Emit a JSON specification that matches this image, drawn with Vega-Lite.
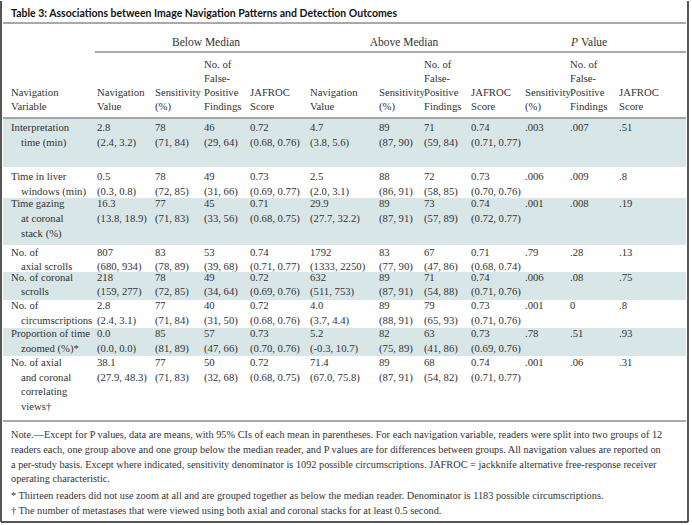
{
  "$schema": "https://vega.github.io/schema/vega-lite/v6.json",
  "width": 692,
  "height": 525,
  "autosize": {"type": "fit", "contains": "padding"},
  "padding": 0,
  "background": "white",
  "config": {"view": {"stroke": null}},
  "datasets": {
    "bands": [
      {"col": 0, "col2": 18, "line": 8, "line2": 11},
      {"col": 0, "col2": 18, "line": 14, "line2": 18},
      {"col": 0, "col2": 18, "line": 21, "line2": 24},
      {"col": 0, "col2": 18, "line": 27, "line2": 30}
    ],
    "rules": [
      {"col": 0, "col2": 18, "line": 1, "line2": 1},
      {"col": 3, "col2": 18, "line": 3, "line2": 3},
      {"col": 0, "col2": 18, "line": 8, "line2": 8},
      {"col": 0, "col2": 18, "line": 35, "line2": 35}
    ],
    "border": [
      {"col": -1, "col2": -1, "line": -1, "line2": 42},
      {"col": 19, "col2": 19, "line": -1, "line2": 42},
      {"col": -1, "col2": 19, "line": 42, "line2": 42}
    ],
    "title": [
      {"col": 1, "line": 0, "text": "Table 3: Associations between Image Navigation Patterns and Detection Outcomes"}
    ],
    "groups": [
      {"col": 7, "line": 2, "text": "Below Median"},
      {"col": 11, "line": 2, "text": "Above Median"}
    ],
    "pital": [{"col": 16, "line": 2, "text": "P"}],
    "pval": [{"col": 16, "line": 2, "text": "Value"}],
    "notes": [
      {"col": 1, "line": 36, "text": "Note.—Except for P values, data are means, with 95% CIs of each mean in parentheses. For each navigation variable, readers were split into two groups of 12"},
      {"col": 1, "line": 37, "text": "readers each, one group above and one group below the median reader, and P values are for differences between groups. All navigation values are reported on"},
      {"col": 1, "line": 38, "text": "a per-study basis. Except where indicated, sensitivity denominator is 1092 possible circumscriptions. JAFROC = jackknife alternative free-response receiver"},
      {"col": 1, "line": 39, "text": "operating characteristic."},
      {"col": 1, "line": 40, "text": "* Thirteen readers did not use zoom at all and are grouped together as below the median reader. Denominator is 1183 possible circumscriptions."},
      {"col": 1, "line": 41, "text": "† The number of metastases that were viewed using both axial and coronal stacks for at least 0.5 second."}
    ],
    "cells": [
      {"col": 1, "line": 6, "text": "Navigation"}, {"col": 1, "line": 7, "text": "Variable"},
      {"col": 4, "line": 6, "text": "Navigation"}, {"col": 4, "line": 7, "text": "Value"},
      {"col": 5, "line": 6, "text": "Sensitivity"}, {"col": 5, "line": 7, "text": "(%)"},
      {"col": 6, "line": 4, "text": "No. of"}, {"col": 6, "line": 5, "text": "False-"}, {"col": 6, "line": 6, "text": "Positive"}, {"col": 6, "line": 7, "text": "Findings"},
      {"col": 8, "line": 6, "text": "JAFROC"}, {"col": 8, "line": 7, "text": "Score"},
      {"col": 9, "line": 6, "text": "Navigation"}, {"col": 9, "line": 7, "text": "Value"},
      {"col": 10, "line": 6, "text": "Sensitivity"}, {"col": 10, "line": 7, "text": "(%)"},
      {"col": 12, "line": 4, "text": "No. of"}, {"col": 12, "line": 5, "text": "False-"}, {"col": 12, "line": 6, "text": "Positive"}, {"col": 12, "line": 7, "text": "Findings"},
      {"col": 13, "line": 6, "text": "JAFROC"}, {"col": 13, "line": 7, "text": "Score"},
      {"col": 14, "line": 6, "text": "Sensitivity"}, {"col": 14, "line": 7, "text": "(%)"},
      {"col": 15, "line": 4, "text": "No. of"}, {"col": 15, "line": 5, "text": "False-"}, {"col": 15, "line": 6, "text": "Positive"}, {"col": 15, "line": 7, "text": "Findings"},
      {"col": 17, "line": 6, "text": "JAFROC"}, {"col": 17, "line": 7, "text": "Score"},

      {"col": 1, "line": 9, "text": "Interpretation"}, {"col": 2, "line": 10, "text": "time (min)"},
      {"col": 4, "line": 9, "text": "2.8"}, {"col": 4, "line": 10, "text": "(2.4, 3.2)"},
      {"col": 5, "line": 9, "text": "78"}, {"col": 5, "line": 10, "text": "(71, 84)"},
      {"col": 6, "line": 9, "text": "46"}, {"col": 6, "line": 10, "text": "(29, 64)"},
      {"col": 8, "line": 9, "text": "0.72"}, {"col": 8, "line": 10, "text": "(0.68, 0.76)"},
      {"col": 9, "line": 9, "text": "4.7"}, {"col": 9, "line": 10, "text": "(3.8, 5.6)"},
      {"col": 10, "line": 9, "text": "89"}, {"col": 10, "line": 10, "text": "(87, 90)"},
      {"col": 12, "line": 9, "text": "71"}, {"col": 12, "line": 10, "text": "(59, 84)"},
      {"col": 13, "line": 9, "text": "0.74"}, {"col": 13, "line": 10, "text": "(0.71, 0.77)"},
      {"col": 14, "line": 9, "text": ".003"}, {"col": 15, "line": 9, "text": ".007"}, {"col": 17, "line": 9, "text": ".51"},

      {"col": 1, "line": 12, "text": "Time in liver"}, {"col": 2, "line": 13, "text": "windows (min)"},
      {"col": 4, "line": 12, "text": "0.5"}, {"col": 4, "line": 13, "text": "(0.3, 0.8)"},
      {"col": 5, "line": 12, "text": "78"}, {"col": 5, "line": 13, "text": "(72, 85)"},
      {"col": 6, "line": 12, "text": "49"}, {"col": 6, "line": 13, "text": "(31, 66)"},
      {"col": 8, "line": 12, "text": "0.73"}, {"col": 8, "line": 13, "text": "(0.69, 0.77)"},
      {"col": 9, "line": 12, "text": "2.5"}, {"col": 9, "line": 13, "text": "(2.0, 3.1)"},
      {"col": 10, "line": 12, "text": "88"}, {"col": 10, "line": 13, "text": "(86, 91)"},
      {"col": 12, "line": 12, "text": "72"}, {"col": 12, "line": 13, "text": "(58, 85)"},
      {"col": 13, "line": 12, "text": "0.73"}, {"col": 13, "line": 13, "text": "(0.70, 0.76)"},
      {"col": 14, "line": 12, "text": ".006"}, {"col": 15, "line": 12, "text": ".009"}, {"col": 17, "line": 12, "text": ".8"},

      {"col": 1, "line": 15, "text": "Time gazing"}, {"col": 2, "line": 16, "text": "at coronal"}, {"col": 2, "line": 17, "text": "stack (%)"},
      {"col": 4, "line": 15, "text": "16.3"}, {"col": 4, "line": 16, "text": "(13.8, 18.9)"},
      {"col": 5, "line": 15, "text": "77"}, {"col": 5, "line": 16, "text": "(71, 83)"},
      {"col": 6, "line": 15, "text": "45"}, {"col": 6, "line": 16, "text": "(33, 56)"},
      {"col": 8, "line": 15, "text": "0.71"}, {"col": 8, "line": 16, "text": "(0.68, 0.75)"},
      {"col": 9, "line": 15, "text": "29.9"}, {"col": 9, "line": 16, "text": "(27.7, 32.2)"},
      {"col": 10, "line": 15, "text": "89"}, {"col": 10, "line": 16, "text": "(87, 91)"},
      {"col": 12, "line": 15, "text": "73"}, {"col": 12, "line": 16, "text": "(57, 89)"},
      {"col": 13, "line": 15, "text": "0.74"}, {"col": 13, "line": 16, "text": "(0.72, 0.77)"},
      {"col": 14, "line": 15, "text": ".001"}, {"col": 15, "line": 15, "text": ".008"}, {"col": 17, "line": 15, "text": ".19"},

      {"col": 1, "line": 19, "text": "No. of"}, {"col": 2, "line": 20, "text": "axial scrolls"},
      {"col": 4, "line": 19, "text": "807"}, {"col": 4, "line": 20, "text": "(680, 934)"},
      {"col": 5, "line": 19, "text": "83"}, {"col": 5, "line": 20, "text": "(78, 89)"},
      {"col": 6, "line": 19, "text": "53"}, {"col": 6, "line": 20, "text": "(39, 68)"},
      {"col": 8, "line": 19, "text": "0.74"}, {"col": 8, "line": 20, "text": "(0.71, 0.77)"},
      {"col": 9, "line": 19, "text": "1792"}, {"col": 9, "line": 20, "text": "(1333, 2250)"},
      {"col": 10, "line": 19, "text": "83"}, {"col": 10, "line": 20, "text": "(77, 90)"},
      {"col": 12, "line": 19, "text": "67"}, {"col": 12, "line": 20, "text": "(47, 86)"},
      {"col": 13, "line": 19, "text": "0.71"}, {"col": 13, "line": 20, "text": "(0.68, 0.74)"},
      {"col": 14, "line": 19, "text": ".79"}, {"col": 15, "line": 19, "text": ".28"}, {"col": 17, "line": 19, "text": ".13"},

      {"col": 1, "line": 22, "text": "No. of coronal"}, {"col": 2, "line": 23, "text": "scrolls"},
      {"col": 4, "line": 22, "text": "218"}, {"col": 4, "line": 23, "text": "(159, 277)"},
      {"col": 5, "line": 22, "text": "78"}, {"col": 5, "line": 23, "text": "(72, 85)"},
      {"col": 6, "line": 22, "text": "49"}, {"col": 6, "line": 23, "text": "(34, 64)"},
      {"col": 8, "line": 22, "text": "0.72"}, {"col": 8, "line": 23, "text": "(0.69, 0.76)"},
      {"col": 9, "line": 22, "text": "632"}, {"col": 9, "line": 23, "text": "(511, 753)"},
      {"col": 10, "line": 22, "text": "89"}, {"col": 10, "line": 23, "text": "(87, 91)"},
      {"col": 12, "line": 22, "text": "71"}, {"col": 12, "line": 23, "text": "(54, 88)"},
      {"col": 13, "line": 22, "text": "0.74"}, {"col": 13, "line": 23, "text": "(0.71, 0.76)"},
      {"col": 14, "line": 22, "text": ".006"}, {"col": 15, "line": 22, "text": ".08"}, {"col": 17, "line": 22, "text": ".75"},

      {"col": 1, "line": 25, "text": "No. of"}, {"col": 2, "line": 26, "text": "circumscriptions"},
      {"col": 4, "line": 25, "text": "2.8"}, {"col": 4, "line": 26, "text": "(2.4, 3.1)"},
      {"col": 5, "line": 25, "text": "77"}, {"col": 5, "line": 26, "text": "(71, 84)"},
      {"col": 6, "line": 25, "text": "40"}, {"col": 6, "line": 26, "text": "(31, 50)"},
      {"col": 8, "line": 25, "text": "0.72"}, {"col": 8, "line": 26, "text": "(0.68, 0.76)"},
      {"col": 9, "line": 25, "text": "4.0"}, {"col": 9, "line": 26, "text": "(3.7, 4.4)"},
      {"col": 10, "line": 25, "text": "89"}, {"col": 10, "line": 26, "text": "(88, 91)"},
      {"col": 12, "line": 25, "text": "79"}, {"col": 12, "line": 26, "text": "(65, 93)"},
      {"col": 13, "line": 25, "text": "0.73"}, {"col": 13, "line": 26, "text": "(0.71, 0.76)"},
      {"col": 14, "line": 25, "text": ".001"}, {"col": 15, "line": 25, "text": "0"}, {"col": 17, "line": 25, "text": ".8"},

      {"col": 1, "line": 28, "text": "Proportion of time"}, {"col": 2, "line": 29, "text": "zoomed (%)*"},
      {"col": 4, "line": 28, "text": "0.0"}, {"col": 4, "line": 29, "text": "(0.0, 0.0)"},
      {"col": 5, "line": 28, "text": "85"}, {"col": 5, "line": 29, "text": "(81, 89)"},
      {"col": 6, "line": 28, "text": "57"}, {"col": 6, "line": 29, "text": "(47, 66)"},
      {"col": 8, "line": 28, "text": "0.73"}, {"col": 8, "line": 29, "text": "(0.70, 0.76)"},
      {"col": 9, "line": 28, "text": "5.2"}, {"col": 9, "line": 29, "text": "(-0.3, 10.7)"},
      {"col": 10, "line": 28, "text": "82"}, {"col": 10, "line": 29, "text": "(75, 89)"},
      {"col": 12, "line": 28, "text": "63"}, {"col": 12, "line": 29, "text": "(41, 86)"},
      {"col": 13, "line": 28, "text": "0.73"}, {"col": 13, "line": 29, "text": "(0.69, 0.76)"},
      {"col": 14, "line": 28, "text": ".78"}, {"col": 15, "line": 28, "text": ".51"}, {"col": 17, "line": 28, "text": ".93"},

      {"col": 1, "line": 31, "text": "No. of axial"}, {"col": 2, "line": 32, "text": "and coronal"}, {"col": 2, "line": 33, "text": "correlating"}, {"col": 2, "line": 34, "text": "views†"},
      {"col": 4, "line": 31, "text": "38.1"}, {"col": 4, "line": 32, "text": "(27.9, 48.3)"},
      {"col": 5, "line": 31, "text": "77"}, {"col": 5, "line": 32, "text": "(71, 83)"},
      {"col": 6, "line": 31, "text": "50"}, {"col": 6, "line": 32, "text": "(32, 68)"},
      {"col": 8, "line": 31, "text": "0.72"}, {"col": 8, "line": 32, "text": "(0.68, 0.75)"},
      {"col": 9, "line": 31, "text": "71.4"}, {"col": 9, "line": 32, "text": "(67.0, 75.8)"},
      {"col": 10, "line": 31, "text": "89"}, {"col": 10, "line": 32, "text": "(87, 91)"},
      {"col": 12, "line": 31, "text": "68"}, {"col": 12, "line": 32, "text": "(54, 82)"},
      {"col": 13, "line": 31, "text": "0.74"}, {"col": 13, "line": 32, "text": "(0.71, 0.77)"},
      {"col": 14, "line": 31, "text": ".001"}, {"col": 15, "line": 31, "text": ".06"}, {"col": 17, "line": 31, "text": ".31"}
    ]
  },
  "encoding": {
    "x": {
      "field": "col", "type": "quantitative", "axis": null,
      "scale": {
        "domain": [-1, 0, 1, 2, 3, 4, 5, 6, 7, 8, 9, 10, 11, 12, 13, 14, 15, 16, 17, 18, 19],
        "range": [1, 3, 11, 21, 95, 97, 155, 204, 206, 250, 310, 379, 404, 424, 471, 525, 570, 579, 619, 686, 688],
        "zero": false, "nice": false
      }
    },
    "y": {
      "field": "line", "type": "quantitative", "axis": null,
      "scale": {
        "domain": [-1, 0, 1, 2, 3, 4, 5, 6, 7, 8, 9, 10, 11, 12, 13, 14, 15, 16, 17, 18, 19, 20, 21, 22, 23, 24, 25, 26, 27, 28, 29, 30, 31, 32, 33, 34, 35, 36, 37, 38, 39, 40, 41, 42],
        "range": [0, 13, 22, 42, 51, 64, 78, 92, 106, 117, 127, 142, 166, 176, 191, 197, 203, 218, 233, 244, 252, 266, 271, 277, 291, 299, 305, 320, 327, 333, 348, 355, 362, 377, 391, 406, 420, 434, 449, 464, 478, 495, 510, 521],
        "zero": false, "nice": false
      }
    }
  },
  "layer": [
    {
      "data": {"name": "bands"},
      "mark": {"type": "rect", "color": "#d9e6e8"},
      "encoding": {"x2": {"field": "col2"}, "y2": {"field": "line2"}}
    },
    {
      "data": {"name": "rules"},
      "mark": {"type": "rule", "color": "#8c8c8c", "strokeWidth": 1.5},
      "encoding": {"x2": {"field": "col2"}, "y2": {"field": "line2"}}
    },
    {
      "data": {"name": "border"},
      "mark": {"type": "rule", "color": "#555555", "strokeWidth": 2},
      "encoding": {"x2": {"field": "col2"}, "y2": {"field": "line2"}}
    },
    {
      "data": {"name": "title"},
      "mark": {"type": "text", "align": "left", "baseline": "middle", "font": "Lato", "fontWeight": "bold", "fontSize": 10.5, "color": "#111111"},
      "encoding": {"text": {"field": "text"}}
    },
    {
      "data": {"name": "groups"},
      "mark": {"type": "text", "align": "center", "baseline": "middle", "font": "Liberation Serif", "fontSize": 11.5, "color": "#333333"},
      "encoding": {"text": {"field": "text"}}
    },
    {
      "data": {"name": "pital"},
      "mark": {"type": "text", "align": "right", "baseline": "middle", "font": "Liberation Serif", "fontStyle": "italic", "fontSize": 11.5, "color": "#333333", "dx": -1},
      "encoding": {"text": {"field": "text"}}
    },
    {
      "data": {"name": "pval"},
      "mark": {"type": "text", "align": "left", "baseline": "middle", "font": "Liberation Serif", "fontSize": 11.5, "color": "#333333", "dx": 2},
      "encoding": {"text": {"field": "text"}}
    },
    {
      "data": {"name": "cells"},
      "mark": {"type": "text", "align": "left", "baseline": "middle", "font": "Liberation Serif", "fontSize": 10.7, "color": "#333333"},
      "encoding": {"text": {"field": "text"}}
    },
    {
      "data": {"name": "notes"},
      "mark": {"type": "text", "align": "left", "baseline": "middle", "font": "Liberation Serif", "fontSize": 10.3, "color": "#333333"},
      "encoding": {"text": {"field": "text"}}
    }
  ]
}
